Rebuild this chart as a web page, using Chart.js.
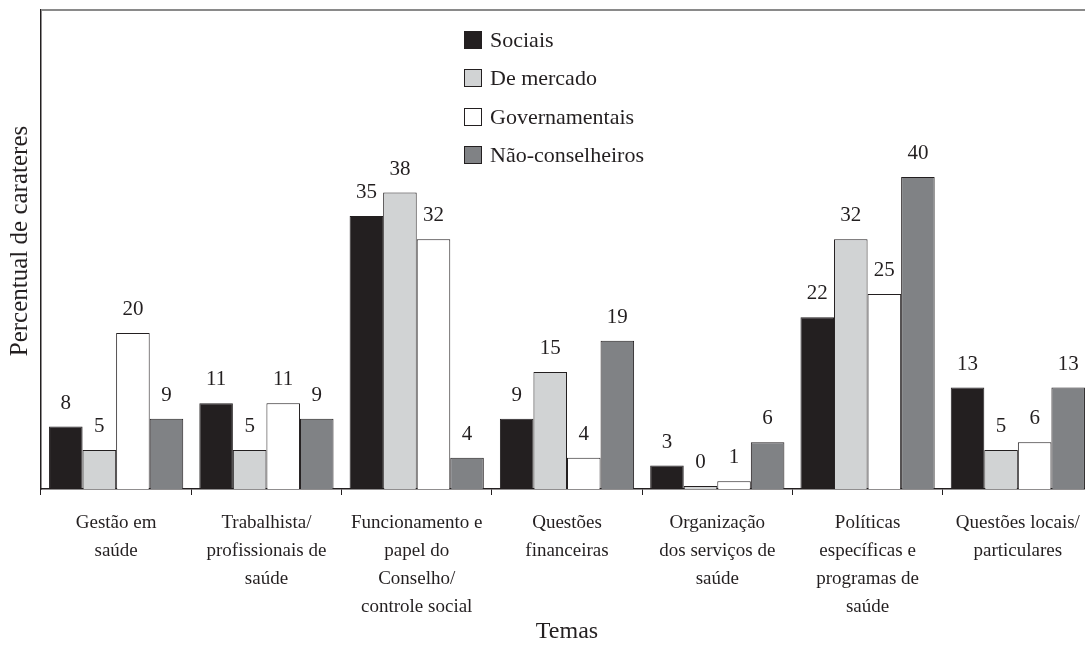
<!DOCTYPE html>
<html>
<head>
<meta charset="utf-8">
<script src="https://cdn.jsdelivr.net/npm/chart.js@4.4.1/dist/chart.umd.min.js"></script>
<style>
  html, body { margin: 0; padding: 0; background: #fff; overflow: hidden; }
  canvas { display: block; }
</style>
</head>
<body>
<canvas id="temasChart" width="1095" height="646"></canvas>
<script>
// Categories (multi-line tick labels)
const temas = [
    ['Gestão em', 'saúde'],
    ['Trabalhista/', 'profissionais de', 'saúde'],
    ['Funcionamento e', 'papel do', 'Conselho/', 'controle social'],
    ['Questões', 'financeiras'],
    ['Organização', 'dos serviços de', 'saúde'],
    ['Políticas', 'específicas e', 'programas de', 'saúde'],
    ['Questões locais/', 'particulares'],
];

// Series values (percent)
const sociais = [8, 11, 35, 9, 3, 22, 13];
const deMercado = [5, 5, 38, 15, 0, 32, 5];
const governamentais = [20, 11, 32, 4, 1, 25, 6];
const naoConselheiros = [9, 9, 4, 19, 6, 40, 13];

const yTitle = 'Percentual de carateres';

const serif = "'Liberation Serif', 'DejaVu Serif', serif";
const ink = '#231f20';

const ctx = document.getElementById('temasChart').getContext('2d');

// value labels above each bar
const valueLabels = {
    id: 'valueLabels',
    afterDatasetsDraw(chart) {
        const c = chart.ctx;
        c.save();
        c.font = '21px ' + serif;
        c.fillStyle = ink;
        c.textAlign = 'center';
        c.textBaseline = 'bottom';
        chart.data.datasets.forEach((ds, i) => {
            chart.getDatasetMeta(i).data.forEach((bar, j) => {
                c.fillText(String(ds.data[j]), bar.x, bar.y - 13);
            });
        });
        c.restore();
    }
};

// top frame line, y title and legend inside the plot
const frameAndLegend = {
    id: 'frameAndLegend',
    afterDraw(chart) {
        const c = chart.ctx;
        const area = chart.chartArea;
        c.save();
        c.strokeStyle = '#8a8a8a';
        c.lineWidth = 2;
        c.beginPath();
        c.moveTo(area.left, area.top);
        c.lineTo(chart.width, area.top);
        c.stroke();

        // y axis title
        c.save();
        c.translate(20, 241);
        c.rotate(-Math.PI / 2);
        c.font = '25px ' + serif;
        c.fillStyle = ink;
        c.textAlign = 'center';
        c.textBaseline = 'middle';
        c.fillText(yTitle, 0, 0);
        c.restore();

        const rows = [40, 78, 117, 155];
        c.font = '22px ' + serif;
        c.textBaseline = 'middle';
        c.textAlign = 'left';
        chart.data.datasets.forEach((ds, i) => {
            const y = rows[i];
            c.fillStyle = ds.backgroundColor;
            c.fillRect(464, y - 9, 18, 18);
            c.strokeStyle = ink;
            c.lineWidth = 1;
            c.strokeRect(464.5, y - 8.5, 17, 17);
            c.fillStyle = ink;
            c.fillText(ds.label, 490, y + 1);
        });
        c.restore();
    }
};

const chart = new Chart(ctx, {
    type: 'bar',
    data: {
        labels: temas,
        datasets: [
            { label: 'Sociais', data: sociais, backgroundColor: '#231f20' },
            { label: 'De mercado', data: deMercado, backgroundColor: '#d1d3d4' },
            { label: 'Governamentais', data: governamentais, backgroundColor: '#ffffff' },
            { label: 'Não-conselheiros', data: naoConselheiros, backgroundColor: '#808285' },
        ].map(ds => Object.assign(ds, {
            borderColor: ink,
            borderWidth: 1,
            categoryPercentage: 0.893,
            barPercentage: 1.0,
            minBarLength: 3,
        })),
    },
    options: {
        responsive: false,
        animation: false,
        devicePixelRatio: 1,
        layout: { padding: { left: 4, top: 10, right: 2, bottom: 0 } },
        plugins: {
            legend: { display: false },
            tooltip: { enabled: false },
        },
        scales: {
            x: {
                grid: {
                    display: true,
                    drawOnChartArea: false,
                    drawTicks: true,
                    tickLength: 6,
                    color: ink,
                },
                border: { display: true, color: ink, width: 1.5 },
                ticks: {
                    color: ink,
                    font: { family: serif, size: 19, lineHeight: 1.47 },
                    padding: 14,
                    maxRotation: 0,
                    autoSkip: false,
                },
                title: {
                    display: true,
                    text: 'Temas',
                    color: ink,
                    font: { family: serif, size: 24, lineHeight: 1.2 },
                    padding: { top: 0, bottom: 0 },
                },
                afterFit(scale) { scale.height = 157; },
            },
            y: {
                min: 0,
                max: 61.4,
                grid: { display: false },
                border: { display: true, color: ink, width: 1.5 },
                ticks: { display: false },
                title: { display: false },
                afterFit(scale) { scale.width = 37; },
            },
        },
    },
    plugins: [valueLabels, frameAndLegend],
});
</script>
</body>
</html>
